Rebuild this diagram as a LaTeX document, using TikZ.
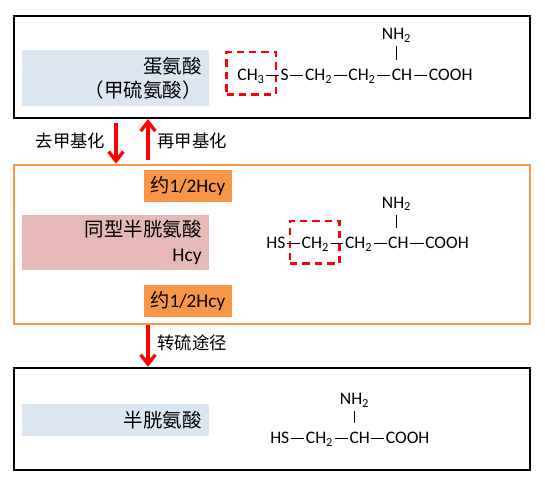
\documentclass[tikz,border=0pt]{standalone}
\usepackage{fontspec}
\setmainfont{Carlito}
\newfontfamily\cjk{Noto Sans CJK SC}
\usetikzlibrary{arrows.meta}
\definecolor{boxorange}{HTML}{F79646}
\definecolor{lblblue}{HTML}{DCE6F1}
\definecolor{lblpink}{HTML}{E6B9B8}

\begin{document}
\begin{tikzpicture}[
    x=0.75pt, y=-0.75pt,
    frame/.style={rectangle, draw, minimum width=387pt, inner sep=0pt},
    lbl/.style={rectangle, minimum width=140.25pt, inner xsep=5.5pt, inner ysep=0pt, align=right, text width=129.25pt, font=\fontsize{14.6}{18.2}\selectfont\cjk},
    tag/.style={rectangle, fill=boxorange, minimum width=65.8pt, minimum height=23.75pt, inner sep=0pt, font=\fontsize{14.4}{18}\selectfont},
    via/.style={inner sep=0pt, font=\fontsize{13}{15}\selectfont\cjk},
    atom/.style={inner xsep=1pt, inner ysep=0pt, text height=10.5pt, text depth=2pt, font=\fontsize{13.2}{15}\selectfont},
    bond/.style={line width=0.75pt},
    bar/.style={line width=1.1pt, shorten <=2.8pt, shorten >=5pt},
    markbox/.style={rectangle, draw=red, line width=1.75pt, dash pattern=on 5.5pt off 3.8pt, minimum width=37pt, minimum height=32pt, inner sep=0pt},
    a/.style={-{Straight Barb[length=7pt, width=11pt]}, red, line width=2.5pt},
]
\useasboundingbox (0,0) rectangle (545,485);

\node[frame, line width=1.9pt, minimum height=76.3pt] (met) at (272,66.9) {};
\node[frame, line width=1.6pt, draw=boxorange, minimum height=119.25pt] (hcy) at (272,244.2) {};
\node[frame, line width=1.9pt, minimum height=76.3pt] (cys) at (272,418.9) {};

\node[lbl, fill=lblblue, minimum height=41.8pt] (metname) at (115.5,77.9) {蛋氨酸\\（甲硫氨酸）};
\node[lbl, fill=lblpink, minimum height=41.25pt] (hcyname) at (115.5,242.5) {同型半胱氨酸\\{\normalfont Hcy}};
\node[lbl, fill=lblblue, minimum height=24pt] (cysname) at (115.5,420) {半胱氨酸};

\node[tag] (half1) at (187.8,185.9) {{\cjk 约}1/2Hcy};
\node[tag] (half2) at (187.8,300.9) {{\cjk 约}1/2Hcy};

\node[via] (demeth) at (70.5,140.7) {去甲基化};
\node[via] (remeth) at (192,140.7) {再甲基化};
\node[via] (transs) at (192,342.7) {转硫途径};

\node[markbox] (mark1) at (251.3,73.3) {};
\node[markbox] (mark2) at (314.7,242) {};

\node[atom] (m1) at (251,75) {CH\textsubscript{3}};
\node[atom] (m2) at (284.7,75) {S};
\node[atom] (m3) at (318.7,75) {CH\textsubscript{2}};
\node[atom] (m4) at (362,75) {CH\textsubscript{2}};
\node[atom] (m5) at (402,75) {CH};
\node[atom] (m6) at (450.7,75) {COOH};
\node[atom] (mn) at (396.5,34) {NH\textsubscript{2}};
\draw[bond] (m1) -- (m2);
\draw[bond] (m2) -- (m3);
\draw[bond] (m3) -- (m4);
\draw[bond] (m4) -- (m5);
\draw[bond] (m5) -- (m6);
\draw[bar] (mn.south) -- (mn.south |- m5.north);

\node[atom] (h1) at (276,243.3) {HS};
\node[atom] (h2) at (315.3,243.3) {CH\textsubscript{2}};
\node[atom] (h3) at (358.7,243.3) {CH\textsubscript{2}};
\node[atom] (h4) at (398.3,243.3) {CH};
\node[atom] (h5) at (447,243.3) {COOH};
\node[atom] (hn) at (396.5,202.7) {NH\textsubscript{2}};
\draw[bond] (h1) -- (h2);
\draw[bond] (h2) -- (h3);
\draw[bond] (h3) -- (h4);
\draw[bond] (h4) -- (h5);
\draw[bar] (hn.south) -- (hn.south |- h4.north);

\node[atom] (c1) at (279.8,438.3) {HS};
\node[atom] (c2) at (319.5,438.3) {CH\textsubscript{2}};
\node[atom] (c3) at (359.7,438.3) {CH};
\node[atom] (c4) at (407.7,438.3) {COOH};
\node[atom] (cn) at (354.5,399) {NH\textsubscript{2}};
\draw[bond] (c1) -- (c2);
\draw[bond] (c2) -- (c3);
\draw[bond] (c3) -- (c4);
\draw[bar] (cn.south) -- (cn.south |- c3.north);

\coordinate (down) at (116,0);
\coordinate (up) at (148,0);
\draw[a, shorten <=3pt] (down |- met.south) -- (down |- hcy.north);
\draw[a, shorten <=3pt] (up |- hcy.north) -- (up |- met.south);
\draw[a] (up |- hcy.south) -- (up |- cys.north);
\end{tikzpicture}
\end{document}
